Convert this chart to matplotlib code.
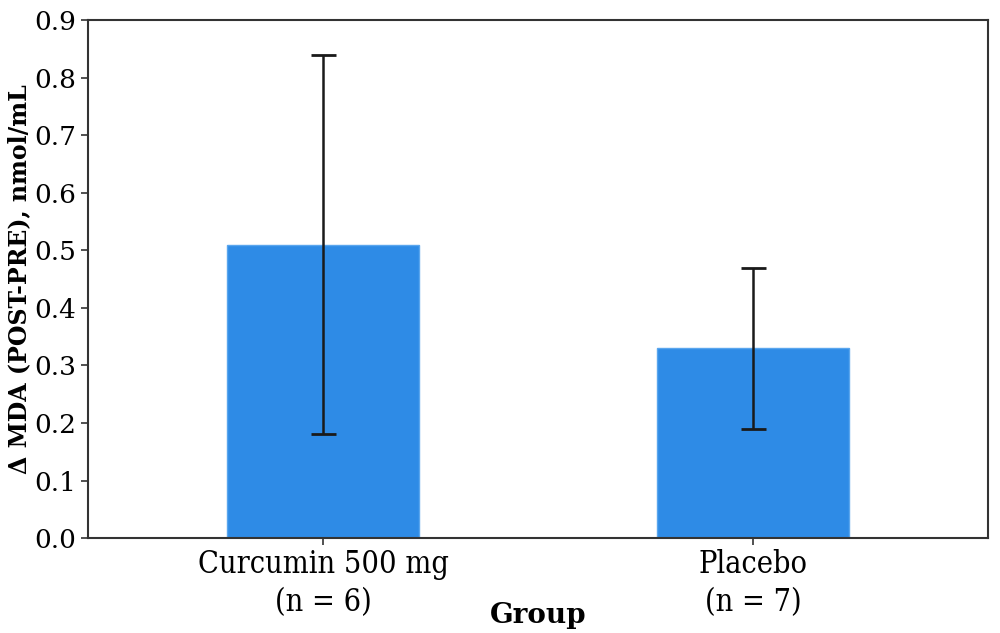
import matplotlib
matplotlib.use('Agg')
import matplotlib.pyplot as plt

# data
groups = ['Curcumin 500 mg\n(n = 6)', 'Placebo\n(n = 7)']
means = [0.51, 0.33]
errors = [0.33, 0.14]
yticks = [0.0, 0.1, 0.2, 0.3, 0.4, 0.5, 0.6, 0.7, 0.8, 0.9]

plt.rcParams['font.family'] = ['DejaVu Serif']

fig = plt.figure(figsize=(10, 6.33), dpi=100)
ax = fig.add_axes([0.088, 0.150, 0.900, 0.818])

pos = range(len(means))
ax.bar(pos, means, width=0.447, color='#2e8be6', edgecolor='#5aa6ee', linewidth=1)
ax.errorbar(pos, means, yerr=errors, fmt='none', ecolor='#1a1a1a',
            elinewidth=1.8, capsize=9, capthick=2)

ax.set_xlim(-0.547, 1.547)
ax.set_ylim(0, 0.9)
ax.set_yticks(yticks)
ax.set_yticklabels(['%.1f' % v for v in yticks], fontsize=19)
ax.set_xticks(list(pos))
ax.set_xticklabels(groups, fontsize=22, fontstretch='condensed', linespacing=1.3)

for s in ax.spines.values():
    s.set_color('#333333')
    s.set_linewidth(1.5)
ax.tick_params(colors='#333333', labelcolor='black', length=5, width=1.2)
ax.tick_params(axis='x', pad=3)

ax.set_ylabel('Δ MDA (POST-PRE), nmol/mL', fontsize=17, fontweight='bold', labelpad=2)
ax.set_xlabel('Group', fontsize=20, fontweight='bold', labelpad=-12)

fig.savefig('out.png', dpi=100)
